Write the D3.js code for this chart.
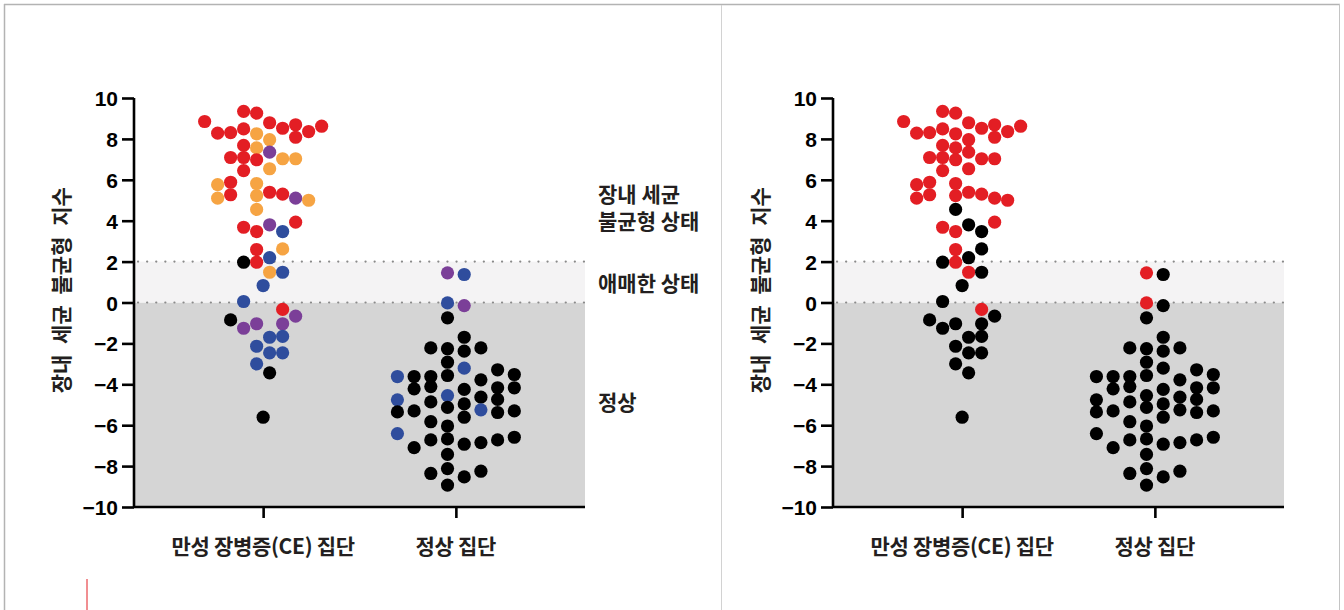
<!DOCTYPE html>
<html><head><meta charset="utf-8">
<script src="https://cdn.jsdelivr.net/npm/d3@7"></script>
<style>body{margin:0;background:#fff;}svg{display:block;}</style>
</head><body>
<svg id="c" width="1344" height="610"></svg>
<script>
// ---------- data ----------
const categories = ["만성 장병증(CE) 집단", "정상 집단"];
const yTicks = [-10, -8, -6, -4, -2, 0, 2, 4, 6, 8, 10];
const yTitle = "장내 세균 불균형 지수";
const zoneLabels = [["장내 세균", "불균형 상태"], ["애매한 상태"], ["정상"]];
const zoneLabelValues = [4.6, 0.9, -4.9];
const thresholds = [0, 2];

// CE group
const ceValues = [8.85,9.35,9.26,8.79,8.28,8.31,8.49,8.25,8.52,8.69,8.36,8.62,8.08,7.96,7.68,7.56,7.35,7.09,7.09,6.98,7.03,7.03,6.45,6.54,5.76,5.88,5.82,5.10,5.27,5.23,5.39,5.30,5.10,5.00,4.55,3.68,3.47,3.80,3.47,3.93,2.59,2.62,1.97,1.97,2.19,1.48,1.48,0.83,0.05,-0.34,-0.67,-0.85,-1.04,-1.26,-1.04,-1.70,-1.66,-2.14,-2.46,-2.46,-3.00,-3.44,-5.61];
const ceLanes = [-4.5,-1.5,-0.5,0.5,-3.5,-2.5,-1.5,-0.5,1.5,2.5,3.5,4.5,2.5,0.5,-1.5,-0.5,0.5,-2.5,-1.5,-0.5,1.5,2.5,-1.5,0.5,-3.5,-2.5,-0.5,-3.5,-2.5,-0.5,0.5,1.5,2.5,3.5,-0.5,-1.5,-0.5,0.5,1.5,2.5,-0.5,1.5,-1.5,-0.5,0.5,0.5,1.5,0,-1.5,1.5,2.5,-2.5,-0.5,-1.5,1.5,0.5,1.5,-0.5,0.5,1.5,-0.5,0.5,0];
const ceGroupsLeft = ["RRRRRRRO","RRRRR","ORO","P","RRR","OO","RO","OROORO","RRPOO","RRPBR","ROKRB","OBBBR","PKPPP","BBBBBB","KK"].join("");
const ceGroupsRight = ["RRRRRRRRRR","RRRRRRRRRR","RRRRRRRRRR","RRRR","KRRKKRRKKRKRKKKR","KKKKKKKKKKKKK"].join("");

// Normal group
const nValues = [1.45,1.37,-0.02,-0.15,-0.75,-1.70,-2.22,-2.26,-2.38,-2.22,-2.92,-3.21,-3.62,-3.62,-3.62,-3.57,-3.29,-3.52,-3.78,-4.22,-4.11,-4.25,-4.17,-4.17,-4.76,-4.55,-4.63,-4.74,-4.86,-4.96,-5.13,-5.25,-5.35,-5.30,-5.38,-5.30,-5.61,-5.83,-6.04,-6.41,-6.72,-6.67,-6.93,-6.85,-6.72,-6.59,-7.10,-7.43,-8.36,-8.12,-8.53,-8.25,-8.93];
const nLanes = [-0.5,0.5,-0.5,0.5,-0.5,0.5,-1.5,-0.5,0.5,1.5,-0.5,0.5,-3.5,-2.5,-1.5,-0.5,2.5,3.5,1.5,-2.5,-1.5,0.5,2.5,3.5,-3.5,-0.5,1.5,2.5,-1.5,0.5,-0.5,1.5,-3.5,-2.5,2.5,3.5,0.5,-1.5,-0.5,-3.5,-1.5,-0.5,0.5,1.5,2.5,3.5,-2.5,-0.5,-1.5,-0.5,0.5,1.5,-0.5];
const nGroupsLeft  = "PBBPKKKKKKKBBKKKKKKKKKKKBBKKKKKBKKKKKKKBKKKKKKKKKKKKK";
const nGroupsRight = "RKRKKKKKKKKKKKKKKKKKKKKKKKKKKKKKKKKKKKKKKKKKKKKKKKKKK";

// ---------- styles ----------
const colors = {R:"#e31e24", O:"#f6a443", P:"#7b3f98", B:"#2f4d9d", K:"#000000"};
const laneWidth = [13, 16.7];
const kFont = "'Noto Sans CJK KR', sans-serif";
const nFont = "'Liberation Sans', Arial, sans-serif";

const svg = d3.select("#c");

// outer frame
svg.append("line").attr("x1",4.5).attr("x2",4.5).attr("y1",4).attr("y2",610).attr("stroke","#b3b3b3").attr("stroke-width",1.5);
svg.append("line").attr("x1",4).attr("x2",1340).attr("y1",4.5).attr("y2",4.5).attr("stroke","#b3b3b3").attr("stroke-width",1.5);
svg.append("line").attr("x1",1339.5).attr("x2",1339.5).attr("y1",4).attr("y2",610).attr("stroke","#c4c4c4").attr("stroke-width",1);
svg.append("line").attr("x1",721.5).attr("x2",721.5).attr("y1",5).attr("y2",610).attr("stroke","#d2d2d2").attr("stroke-width",1);
svg.append("line").attr("x1",87).attr("x2",87).attr("y1",579).attr("y2",610).attr("stroke","#e31e24").attr("stroke-width",1);

function drawPanel(ox, ceG, nG, annotate) {
  const g = svg.append("g").attr("transform", `translate(${ox},0)`);
  const y = d3.scaleLinear().domain([-10, 10]).range([507, 98]);
  const x = d3.scalePoint().domain(categories).range([134, 585]).padding(0.67);
  const xl = 134, xr = 585;

  // zones
  g.append("rect").attr("x", xl).attr("width", xr - xl).attr("y", y(thresholds[0])).attr("height", y(-10) - y(thresholds[0])).attr("fill", "#d5d5d5");
  g.append("rect").attr("x", xl).attr("width", xr - xl).attr("y", y(thresholds[1])).attr("height", y(thresholds[0]) - y(thresholds[1])).attr("fill", "#f4f3f4");
  thresholds.forEach(t => {
    g.append("line").attr("x1", xl + 4).attr("x2", xr).attr("y1", y(t)).attr("y2", y(t))
      .attr("stroke", "#8a8a8a").attr("stroke-width", 2.2).attr("stroke-linecap","round").attr("stroke-dasharray", "0.1 9");
  });

  // points
  const groups = [
    {vals: ceValues, lanes: ceLanes, cols: ceG, cat: categories[0], lw: laneWidth[0]},
    {vals: nValues, lanes: nLanes, cols: nG, cat: categories[1], lw: laneWidth[1]}
  ];
  groups.forEach(grp => {
    const lane = d3.scaleLinear().domain([0, 1]).range([x(grp.cat), x(grp.cat) + grp.lw]);
    g.append("g").selectAll("circle").data(grp.vals.map((v, i) => ({v, l: grp.lanes[i], c: grp.cols[i]})))
      .join("circle")
      .attr("cx", d => lane(d.l)).attr("cy", d => y(d.v)).attr("r", 6.6)
      .attr("fill", d => colors[d.c]);
  });

  // y axis
  const ya = g.append("g").attr("transform", `translate(${xl},0)`)
    .call(d3.axisLeft(y).tickValues(yTicks).tickSize(12).tickPadding(4).tickFormat(d3.format("d")));
  ya.select(".domain").attr("stroke", "#000").attr("stroke-width", 2.6).attr("d", `M0,${y(10)}V${y(-10)}`);
  ya.selectAll(".tick line").attr("stroke", "#000").attr("stroke-width", 2.6);
  ya.selectAll(".tick text").attr("font-family", nFont).attr("font-weight", "bold").attr("font-size", 21).attr("fill", "#000").attr("dy","0.36em");

  // x axis
  const xa = g.append("g").attr("transform", `translate(0,${y(-10)})`)
    .call(d3.axisBottom(x).tickSize(11).tickFormat(""));
  xa.select(".domain").attr("stroke", "#000").attr("stroke-width", 2.6).attr("d", `M${xl},0H${xr}`);
  xa.selectAll(".tick line").attr("stroke", "#000").attr("stroke-width", 2.6);
  g.append("g").selectAll("text").data(categories).join("text")
    .attr("x", d => x(d)).attr("y", 554).attr("text-anchor", "middle")
    .attr("font-family", kFont).attr("font-weight", "bold").attr("font-size", 21).attr("letter-spacing", -0.3)
    .attr("fill", "#231f20").text(d => d);

  // y title
  g.append("text").attr("transform", `translate(69,${y(0.6)}) rotate(-90)`).attr("text-anchor", "middle")
    .attr("font-family", kFont).attr("font-weight", "bold").attr("font-size", 21).attr("word-spacing", 6)
    .attr("fill", "#231f20").text(yTitle);

  if (annotate) {
    zoneLabels.forEach((lines, i) => {
      const n = lines.length;
      const t = g.append("text").attr("x", 598).attr("font-family", kFont).attr("font-weight", "bold")
        .attr("font-size", 21).attr("fill", "#231f20");
      lines.forEach((s, j) => {
        t.append("tspan").attr("x", 598).attr("y", y(zoneLabelValues[i]) + (j - (n - 1) / 2) * 27 + 7).text(s);
      });
    });
  }
}

drawPanel(0, ceGroupsLeft, nGroupsLeft, true);
drawPanel(699, ceGroupsRight, nGroupsRight, false);
</script>
</body></html>
